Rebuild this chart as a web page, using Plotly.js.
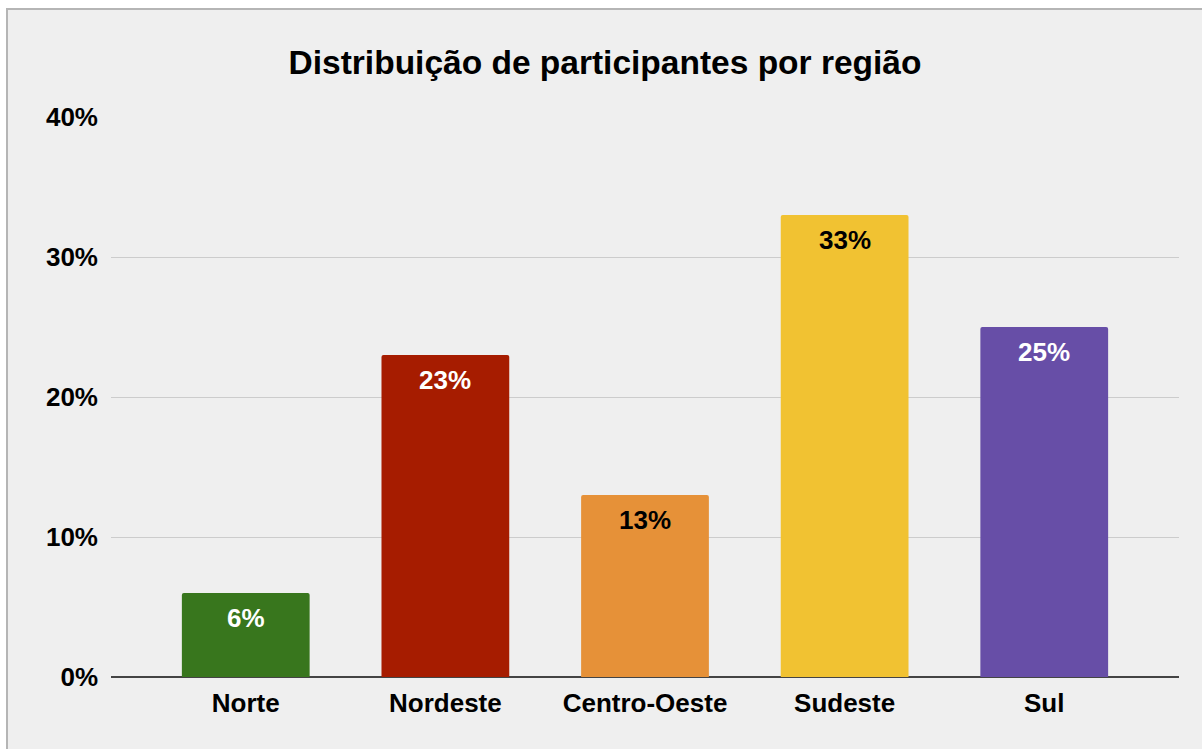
<!DOCTYPE html>
<html>
<head>
<meta charset="utf-8">
<script src="https://cdn.plot.ly/plotly-3.0.1.min.js"></script>
<style>
  html, body { margin: 0; padding: 0; background: #ffffff; width: 1202px; height: 749px; overflow: hidden; }
  #frame { position: absolute; left: 6px; top: 8px; width: 1194px; height: 741px; border-left: 2px solid #b5b5b5; border-top: 2px solid #b5b5b5; background: #efefef; }
  #chart { width: 1194px; height: 741px; }
</style>
</head>
<body>
<div id="frame"><div id="chart"></div></div>
<script>
const categories = ["Norte", "Nordeste", "Centro-Oeste", "Sudeste", "Sul"];
const values = [0.06, 0.23, 0.13, 0.33, 0.25];
const labels = ["6%", "23%", "13%", "33%", "25%"];
const barColors = ["#38761d", "#a61c00", "#e69138", "#f1c232", "#674ea7"];
const labelColors = ["#ffffff", "#ffffff", "#000000", "#000000", "#ffffff"];
const yTickVals = [0, 0.1, 0.2, 0.3, 0.4];
const yTickText = ["0%", "10%", "20%", "30%", "40%"];

const font = "Liberation Sans, Arial, sans-serif";

const trace = {
  type: "bar",
  x: categories,
  y: values,
  textposition: "none",
  marker: { color: barColors, line: { width: 0 }, cornerradius: 2 },
  width: 0.64,
  hoverinfo: "none"
};

const annotations = categories.map((c, i) => ({
  x: c,
  y: values[i],
  xref: "x",
  yref: "y",
  text: "<b>" + labels[i] + "</b>",
  showarrow: false,
  yanchor: "top",
  yshift: -8,
  font: { family: font, size: 26, color: labelColors[i] }
}));

const layout = {
  width: 1194,
  height: 741,
  paper_bgcolor: "#efefef",
  plot_bgcolor: "#efefef",
  margin: { l: 103, r: 23, t: 107, b: 74 },
  title: {
    text: "<b>Distribuição de participantes por região</b>",
    font: { family: font, size: 33.5, color: "#000000" },
    x: 0.5, xanchor: "center",
    y: 0.930, yref: "container", yanchor: "middle",
    pad: { t: 0, b: 0 }
  },
  xaxis: {
    type: "category",
    range: [-0.675, 4.675],
    showgrid: false,
    showline: false,
    zeroline: false,
    ticks: "",
    tickfont: { family: font, size: 26, color: "#000000", weight: "bold" },
    ticklabelstandoff: 8
  },
  yaxis: {
    range: [0, 0.4],
    tickvals: yTickVals,
    ticktext: yTickText,
    showgrid: true,
    gridcolor: "#cccccc",
    gridwidth: 1,
    zeroline: true,
    zerolinecolor: "#444444",
    zerolinewidth: 1.5,
    showline: false,
    ticks: "",
    tickfont: { family: font, size: 26, color: "#000000", weight: "bold" },
    ticklabelstandoff: 12
  },
  annotations: annotations,
  showlegend: false,
  bargap: 0.36
};

Plotly.newPlot("chart", [trace], layout, { displayModeBar: false, staticPlot: true });
</script>
</body>
</html>
